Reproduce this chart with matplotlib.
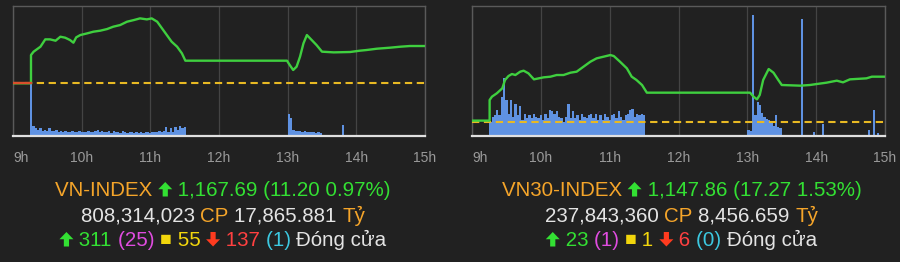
import matplotlib
matplotlib.use("Agg")
import matplotlib.pyplot as plt
from matplotlib.patches import Polygon
import numpy as np

plt.rcParams["font.family"] = ["Liberation Sans", "DejaVu Sans"]

BG = "#212121"
GREEN = "#3fcf3f"
RED_LINE = "#d9502c"
REF_C = "#e8b923"
BAR_C = "#5f92e2"
GRID_C = "#444444"
BOX_C = "#5a5a5a"
TICK_C = "#9a9a9a"
ORANGE = "#f5a52a"
TGREEN = "#33e033"
WHITE = "#e4e4e4"
MAGENTA = "#e04ce0"
YELLOW = "#f2d60c"
RED = "#ff4040"
ARROW_RED = "#ff3b1f"
CYAN = "#3cc8e0"

hours = [9, 10, 11, 12, 13, 14, 15]
hour_labels = ["9h", "10h", "11h", "12h", "13h", "14h", "15h"]

# ---- VN-INDEX (hour, index points) ----
vn_t = [9.0, 9.262, 9.262, 9.30, 9.40, 9.47, 9.54, 9.62, 9.69, 9.76, 9.83, 9.88, 9.92,
        9.98, 10.08, 10.17, 10.27, 10.37, 10.46, 10.56, 10.66, 10.76, 10.85, 10.95,
        11.02, 11.10, 11.17, 11.24, 11.31, 11.39, 11.46, 11.51, 12.99, 13.03, 13.08,
        13.13, 13.18, 13.23, 13.28, 13.35, 13.42, 13.50, 13.67, 13.91, 14.05, 14.15,
        14.30, 14.49, 14.64, 14.78, 15.0]
vn_v = [1156.3, 1156.3, 1164.93, 1165.95, 1167.47, 1169.71, 1169.71, 1169.30, 1170.52,
        1170.22, 1169.51, 1168.69, 1170.32, 1171.03, 1171.54, 1172.05, 1172.36, 1172.86,
        1173.58, 1174.08, 1175.10, 1175.61, 1176.12, 1175.81, 1176.12, 1175.10, 1173.07,
        1171.03, 1169.00, 1167.47, 1165.44, 1163.20, 1163.20, 1161.88, 1160.35, 1161.37,
        1164.42, 1168.49, 1171.03, 1169.51, 1167.98, 1165.95, 1165.74, 1165.85, 1166.25,
        1166.46, 1166.86, 1167.17, 1167.47, 1167.68, 1167.68]
vn_ref = 1156.49
vn_ylim = (1140.2, 1179.9)
# volume, % of panel height, 2-minute bars
vn_vol_am = [46, 8, 6, 5, 6, 4, 5, 4, 6, 4, 4, 5, 3, 4, 3, 4, 3, 3, 4, 3, 3, 4, 3, 3,
             3, 4, 3, 3, 4, 5, 3, 4, 3, 3, 4, 2, 4, 3, 3, 2, 4, 3, 2, 3, 3, 2, 3, 2,
             3, 2, 3, 3, 2, 3, 3, 3, 4, 3, 4, 7, 3, 6, 3, 7, 5, 8, 6, 7]
vn_vol_pm = [17, 14, 5, 4, 4, 4, 3, 4, 3, 3, 3, 3, 2, 3, 2, 1]
vn_vol_x_t = [13.62, 13.79, 14.77, 14.83]
vn_vol_x = [1, 8.5, 1, 1]

# ---- VN30-INDEX ----
vn30_t = [9.0, 9.256, 9.256, 9.29, 9.36, 9.44, 9.48, 9.53, 9.58, 9.63, 9.70, 9.75, 9.82,
          9.90, 9.97, 10.04, 10.14, 10.23, 10.33, 10.43, 10.52, 10.62, 10.72, 10.81,
          10.91, 11.01, 11.06, 11.15, 11.25, 11.32, 11.39, 11.47, 11.54, 13.04, 13.09,
          13.14, 13.18, 13.23, 13.31, 13.38, 13.45, 13.50, 13.77, 13.91, 14.01, 14.15,
          14.30, 14.39, 14.49, 14.73, 14.81, 15.0]
vn30_v = [1131.22, 1131.22, 1139.03, 1140.29, 1141.55, 1143.44, 1146.59, 1148.10, 1148.86,
          1148.48, 1149.74, 1150.12, 1149.11, 1146.84, 1147.22, 1147.60, 1147.85, 1148.48,
          1148.48, 1149.36, 1149.74, 1151.63, 1153.52, 1154.78, 1155.41, 1156.04, 1155.66,
          1153.52, 1151.00, 1147.85, 1146.59, 1144.70, 1141.80, 1141.80, 1140.29, 1139.28,
          1140.92, 1146.59, 1150.75, 1149.36, 1146.59, 1144.70, 1144.45, 1144.70, 1145.08,
          1145.58, 1146.34, 1145.71, 1146.84, 1147.22, 1147.85, 1147.85]
vn30_ref = 1130.59
vn30_ylim = (1125.4, 1174.6)
vn30_vol_am = [11, 15, 16, 20, 16, 30, 45, 28, 17, 28, 15, 25, 16, 23, 12, 17, 14, 16,
               14, 17, 15, 14, 16, 12, 17, 14, 20, 19, 17, 19, 15, 14, 11, 15, 25, 14,
               19, 14, 16, 12, 17, 15, 14, 16, 17, 14, 17, 12, 16, 12, 17, 15, 12, 16,
               17, 14, 19, 15, 12, 16, 17, 20, 21, 15, 17, 16, 17, 16]
vn30_vol_pm = [5, 4, 93, 16, 26, 24, 18, 15, 13, 12, 10, 8, 16, 7, 6]
vn30_vol_x_t = [13.78, 13.96, 14.08, 14.75, 14.83, 14.88]
vn30_vol_x = [90, 3, 9, 5, 20, 2]

# ---- summary text ----
vn_info = ["VN-INDEX", "1,167.69", "11.20", "0.97%", "808,314,023", "17,865.881",
           "311", "25", "55", "137", "1"]
vn30_info = ["VN30-INDEX", "1,147.86", "17.27", "1.53%", "237,843,360", "8,456.659",
             "23", "1", "1", "6", "0"]

W, H = 900, 262
fig = plt.figure(figsize=(W / 100, H / 100), dpi=100, facecolor=BG)


def panel(left_px, right_px, t, v, ref, ylim, vam, vpm, vxt, vx):
    ax = fig.add_axes([left_px / W, (H - 136) / H, (right_px - left_px) / W, 130 / H])
    ax.set_facecolor(BG)
    step = 2 / 60
    t_am = 9.25 + np.arange(len(vam)) * step
    t_pm = 13.0 + np.arange(len(vpm)) * step
    ax.bar(t_am, vam, width=step, color=BAR_C, align="edge", linewidth=0)
    ax.bar(t_pm, vpm, width=step, color=BAR_C, align="edge", linewidth=0)
    ax.bar(vxt, vx, width=step * 0.9, color=BAR_C, align="edge", linewidth=0)
    ax.set_ylim(0, 100)
    ax.set_xlim(9, 15)
    ax.set_yticks([])
    ax.set_xticks(hours)
    ax.set_xticklabels(hour_labels)
    ax.tick_params(axis="x", length=0, pad=11, labelsize=10, labelcolor=TICK_C)
    ax.get_xticklabels()[0].set_ha("left")
    ax.grid(axis="x", color=GRID_C, lw=0.9)
    ax.set_axisbelow(True)
    for s in ["left", "right", "top"]:
        ax.spines[s].set_color(BOX_C)
        ax.spines[s].set_linewidth(1.0)
    ax.spines["bottom"].set_color("#e0e0e0")
    ax.spines["bottom"].set_linewidth(1.6)

    ax2 = ax.twinx()
    ax2.set_ylim(*ylim)
    ax2.set_yticks([])
    for s in ax2.spines.values():
        s.set_visible(False)
    ax2.plot([9.0, 15.0], [ref, ref], color=REF_C, lw=1.5, dashes=(3.5, 2.2), zorder=2)
    ax2.plot(t, v, color=GREEN, lw=1.7, zorder=3)
    if v[0] < ref:
        ax2.plot(t[:2], v[:2], color=RED_LINE, lw=1.7, zorder=4)
    return ax


panel(13, 425, vn_t, vn_v, vn_ref, vn_ylim, vn_vol_am, vn_vol_pm, vn_vol_x_t, vn_vol_x)
panel(472, 885, vn30_t, vn30_v, vn30_ref, vn30_ylim, vn30_vol_am, vn30_vol_pm,
      vn30_vol_x_t, vn30_vol_x)

renderer = fig.canvas.get_renderer()
ARROW_W, ARROW_H = 14.0, 14.5


def arrow(x0, y0, up, color):
    # fat arrow drawn in pixel units, (x0, y0) = left end of the baseline
    w, h, s = ARROW_W, ARROW_H, 2.6
    cx = x0 + w / 2
    if up:
        pts = [(cx, y0 + h), (x0 + w, y0 + h * 0.5), (cx + s, y0 + h * 0.5), (cx + s, y0),
               (cx - s, y0), (cx - s, y0 + h * 0.5), (x0, y0 + h * 0.5)]
    else:
        pts = [(cx, y0), (x0 + w, y0 + h * 0.5), (cx + s, y0 + h * 0.5), (cx + s, y0 + h),
               (cx - s, y0 + h), (cx - s, y0 + h * 0.5), (x0, y0 + h * 0.5)]
    fig.add_artist(Polygon([(px / W, py / H) for px, py in pts], closed=True,
                           transform=fig.transFigure, facecolor=color, edgecolor="none"))


def rich_line(cx, base_y, parts, size=14.8):
    items = []
    for p in parts:
        s, c = p[0], p[1]
        if s in ("UP", "DOWN"):
            items.append((s, c, ARROW_W))
            continue
        fs = p[2] if len(p) > 2 else size
        dy = p[3] if len(p) > 3 else 0
        txt = fig.text(0, 0, s, color=c, fontsize=fs, ha="left", va="baseline")
        items.append((txt, dy, txt.get_window_extent(renderer).width))
    x = cx - sum(it[2] for it in items) / 2
    y0 = H - base_y
    for it in items:
        if it[0] in ("UP", "DOWN"):
            arrow(x, y0, it[0] == "UP", it[1])
        else:
            it[0].set_position((x / W, (y0 + it[1]) / H))
        x += it[2]


def summary(cx, info):
    name, close, chg, pct, shares, value, up, ceil, flat, down, floor = info
    rich_line(cx, 196.5, [(name + " ", ORANGE), ("UP", TGREEN),
                          (" %s (%s %s)" % (close, chg, pct), TGREEN)])
    rich_line(cx, 221.5, [(shares + " ", WHITE), ("CP ", ORANGE), (value + " ", WHITE),
                          ("Tỷ", ORANGE)])
    rich_line(cx, 246.5, [("UP", TGREEN), (" %s " % up, TGREEN),
                          ("(%s) " % ceil, MAGENTA), ("■", YELLOW, 14, 1),
                          (" %s " % flat, YELLOW), ("DOWN", ARROW_RED),
                          (" %s " % down, RED), ("(%s) " % floor, CYAN),
                          ("Đóng cửa", WHITE)])


summary(223, vn_info)
summary(681.5, vn30_info)

fig.savefig("out.png", dpi=100, facecolor=BG)
